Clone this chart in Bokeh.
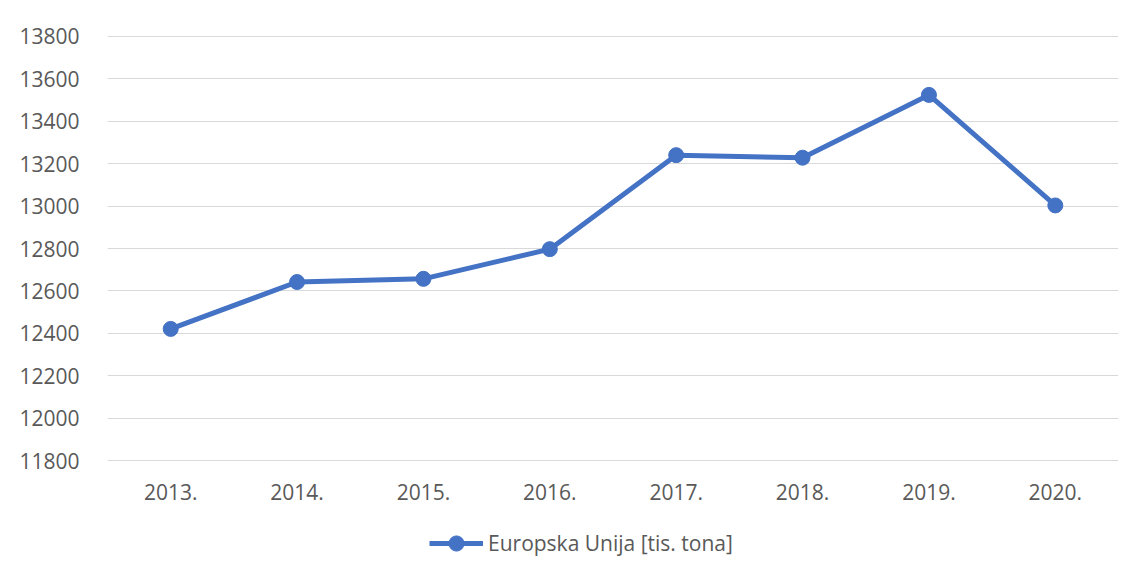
from bokeh.plotting import figure
from bokeh.layouts import column
from bokeh.models import Range1d, FixedTicker, Legend, LegendItem, ColumnDataSource
from bokeh.embed import file_html
from bokeh.resources import INLINE

years = ["2013.", "2014.", "2015.", "2016.", "2017.", "2018.", "2019.", "2020."]
values = [12421, 12642, 12657, 12797, 13240, 13228, 13524, 13003]
y_ticks = list(range(11800, 13801, 200))
series_name = "Europska Unija [tis. tona]"

FONT = "Open Sans"
TXT = "#595959"
BLUE = "#4472C4"

src = ColumnDataSource(dict(x=years, y=values))

p = figure(width=1135, height=515, x_range=years, y_range=Range1d(11796, 13804),
           output_backend="svg", toolbar_location=None,
           min_border_left=107, min_border_right=17, min_border_top=35, min_border_bottom=54)
p.outline_line_color = None
p.background_fill_color = "white"
p.border_fill_color = "white"

p.xgrid.grid_line_color = None
p.ygrid.grid_line_color = "#d9d9d9"
p.ygrid.grid_line_width = 1
p.yaxis.ticker = FixedTicker(ticks=y_ticks)

for ax in (p.xaxis[0], p.yaxis[0]):
    ax.axis_line_color = None
    ax.major_tick_line_color = None
    ax.minor_tick_line_color = None
    ax.major_label_text_font = FONT
    ax.major_label_text_font_size = "21px"
    ax.major_label_text_color = TXT
p.yaxis.major_label_standoff = 22
p.xaxis.major_label_standoff = 16

ln = p.line("x", "y", source=src, line_color=BLUE, line_width=5)
sc = p.scatter("x", "y", source=src, size=15, fill_color=BLUE, line_color=BLUE)

# legend strip below the chart (same series, drawn out of view; only its legend shows)
lg = figure(width=1135, height=62, x_range=years, y_range=Range1d(0, 1),
            output_backend="svg", toolbar_location=None,
            min_border_left=0, min_border_right=0, min_border_top=0, min_border_bottom=0)
lg.axis.visible = False
lg.grid.visible = False
lg.outline_line_color = None
lg.border_fill_color = "white"
l_ln = lg.line("x", "y", source=src, line_color=BLUE, line_width=5)
l_sc = lg.scatter("x", "y", source=src, size=15, fill_color=BLUE, line_color=BLUE)

legend = Legend(items=[LegendItem(label=series_name, renderers=[l_ln, l_sc])],
                orientation="horizontal", location=(322, 15))
legend.label_text_font = FONT
legend.label_text_font_size = "21px"
legend.label_text_color = TXT
legend.glyph_width = 54
legend.glyph_height = 38
legend.label_standoff = 5
legend.padding = 0
legend.margin = 0
legend.border_line_color = None
legend.background_fill_alpha = 0
lg.add_layout(legend)

layout = column(p, lg, spacing=0)
open("out.html", "w").write(file_html(layout, INLINE))
